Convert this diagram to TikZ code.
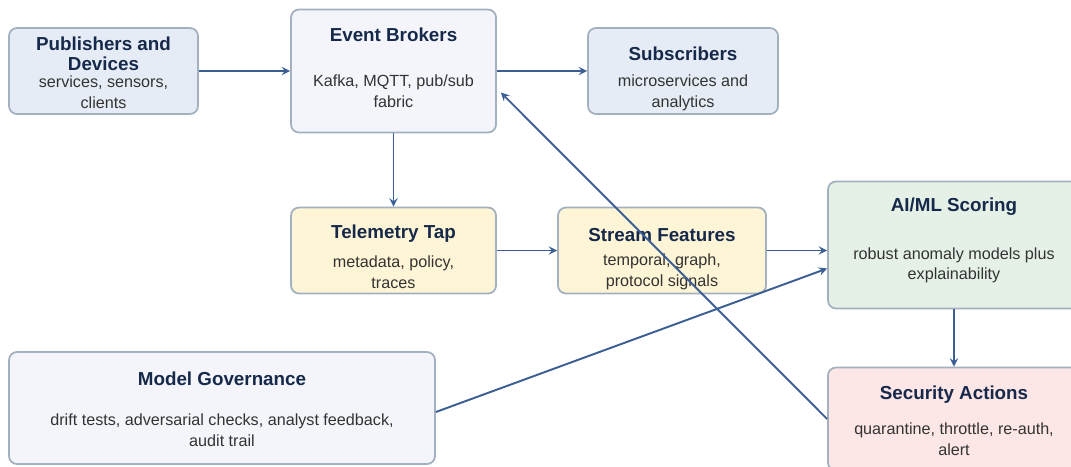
\documentclass[tikz,border=0pt]{standalone}
\usepackage{fontspec}
\setmainfont{Liberation Sans}
\usetikzlibrary{arrows}

\definecolor{edgecol}{RGB}{163,176,191}
\definecolor{arrowcol}{RGB}{59,95,148}
\definecolor{titlecol}{RGB}{22,41,74}
\definecolor{bodycol}{RGB}{51,51,51}
\definecolor{bluefill}{RGB}{229,236,245}
\definecolor{greyfill}{RGB}{243,245,250}
\definecolor{yellowfill}{RGB}{254,245,214}
\definecolor{greenfill}{RGB}{229,241,230}
\definecolor{redfill}{RGB}{252,230,230}

% title line, optional strut height to push the text block down
\newcommand{\boxtitle}[2][0pt]{{\fontsize{10.7pt}{11.3pt}\selectfont\bfseries\color{titlecol}\rule{0pt}{#1}#2}}

\begin{document}
\begin{tikzpicture}[node distance=2cm]
\tikzstyle{card} = [rectangle, rounded corners=0.16cm, draw=edgecol, line width=1pt, inner sep=1pt, align=center, text=bodycol, font=\fontsize{9.2pt}{11.9pt}\selectfont]
\tikzstyle{smallcard} = [card, minimum width=3.8cm, minimum height=1.72cm]
\tikzstyle{arrow} = [line width=1.1pt, draw=arrowcol, ->, >=stealth]

\useasboundingbox (0,0) rectangle (21.42,-9.32);

\node (pub) [smallcard, fill=bluefill, minimum width=3.78cm] at (2.07,-1.42) {\boxtitle[9.5pt]{Publishers and}\\[-0.6pt]\boxtitle{Devices}\\[-2.3pt]services, sensors,\\clients};
\node (brok) [card, fill=greyfill, minimum width=4.1cm, minimum height=2.46cm, right of=pub, xshift=3.8cm] {\boxtitle{Event Brokers}\\[0.48cm]Kafka, MQTT, pub/sub\\fabric\rule[-4pt]{0pt}{0pt}};
\node (sub) [smallcard, fill=bluefill, right of=brok, xshift=3.79cm] {\boxtitle[16.8pt]{Subscribers}\\[0.1cm]microservices and\\analytics};
\node (tele) [smallcard, fill=yellowfill, minimum width=4.1cm, below of=brok, yshift=-1.59cm] {\boxtitle[15.2pt]{Telemetry Tap}\\[0.16cm]metadata, policy,\\traces};
\node (stream) [smallcard, fill=yellowfill, minimum width=4.16cm, right of=tele, xshift=3.37cm] {\boxtitle[16.8pt]{Stream Features}\\[0.06cm]temporal, graph,\\protocol signals};
\node (aiml) [card, fill=greenfill, minimum width=5.04cm, minimum height=2.54cm, right of=stream, xshift=3.84cm, yshift=0.11cm] {\boxtitle{AI/ML Scoring}\\[0.54cm]robust anomaly models plus\\[-0.5pt]explainability\rule[-7pt]{0pt}{0pt}};
\node (sec) [card, fill=redfill, minimum width=5.04cm, minimum height=2.06cm, below of=aiml, yshift=-1.48cm] {\boxtitle[10.1pt]{Security Actions}\\[0.28cm]quarantine, throttle, re-auth,\\alert};
\node (gov) [card, fill=greyfill, minimum width=8.52cm, minimum height=2.24cm] at (4.44,-8.16) {\boxtitle[9pt]{Model Governance}\\[0.38cm]drift tests, adversarial checks, analyst feedback,\\audit trail};

\draw [arrow] (pub) -- (brok);
\draw [arrow] (brok) -- (sub);
\draw [arrow] (brok) -- (tele);
\draw [arrow] (tele) -- (stream);
\draw [arrow] (stream.east) -- (stream.east -| aiml.west);
\draw [arrow] (aiml) -- (sec);
\draw [arrow] ([yshift=-0.08cm]gov.east) -- ([yshift=-0.47cm]aiml.west);
\draw [arrow] (sec.west) -- ([shift={(0.08,-0.43)}]brok.east);

\end{tikzpicture}
\end{document}
